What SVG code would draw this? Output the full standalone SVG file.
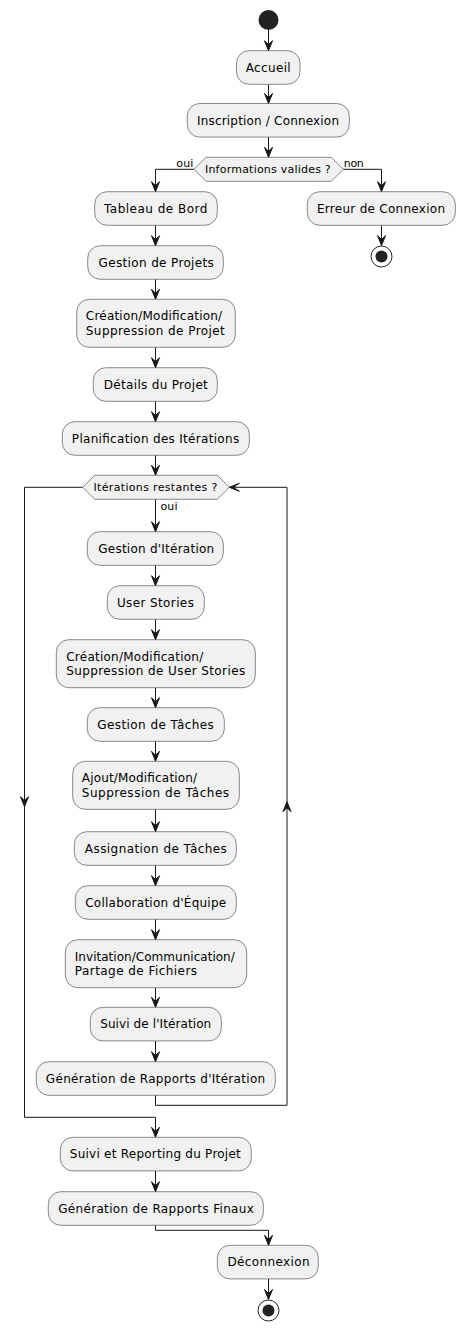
<svg xmlns="http://www.w3.org/2000/svg" width="465" height="1331" viewBox="0 0 465 1331">
<style>
.box{fill:#F1F1F1;stroke:#181818;stroke-width:0.5}
.t{font-family:"DejaVu Sans",sans-serif;font-size:12px;fill:#000}
.c{text-anchor:middle}
.lbl{font-family:"DejaVu Sans",sans-serif;font-size:11px;fill:#000}
.ln{fill:none;stroke:#181818;stroke-width:1}
.ah{fill:#181818;stroke:#181818;stroke-width:1}
</style>
<defs>
<polygon id="ad" points="-4,-10 0,0 4,-10 0,-6"/>
</defs>
<rect width="465" height="1331" fill="#FFFFFF"/>
<g id="connectors">
<path class="ln" d="M268.5,30 V50.7"/><use href="#ad" class="ah" x="268.5" y="50.7"/>
<path class="ln" d="M268.5,84.3 V103.5"/><use href="#ad" class="ah" x="268.5" y="103.5"/>
<path class="ln" d="M268.5,137.1 V157.3"/><use href="#ad" class="ah" x="268.5" y="157.3"/>
<path class="ln" d="M194,169.3 H155.5 V191.7"/><use href="#ad" class="ah" x="155.5" y="191.7"/>
<path class="ln" d="M343.3,169.3 H381.5 V191.7"/><use href="#ad" class="ah" x="381.5" y="191.7"/>
<text class="lbl" x="176.3" y="166.5" textLength="17" lengthAdjust="spacing">oui</text>
<text class="lbl" x="343.8" y="166.5" textLength="20" lengthAdjust="spacing">non</text>
<path class="ln" d="M381.5,225.3 V245.5"/><use href="#ad" class="ah" x="381.5" y="245.5"/>
<path class="ln" d="M155.5,225.3 V245.7"/><use href="#ad" class="ah" x="155.5" y="245.7"/>
<path class="ln" d="M155.5,279.3 V299.3"/><use href="#ad" class="ah" x="155.5" y="299.3"/>
<path class="ln" d="M155.5,347.3 V367.7"/><use href="#ad" class="ah" x="155.5" y="367.7"/>
<path class="ln" d="M155.5,401.3 V421.7"/><use href="#ad" class="ah" x="155.5" y="421.7"/>
<path class="ln" d="M155.5,455.3 V475.3"/><use href="#ad" class="ah" x="155.5" y="475.3"/>
<path class="ln" d="M155.5,499.3 V531.7"/><use href="#ad" class="ah" x="155.5" y="531.7"/>
<text class="lbl" x="160.5" y="510" textLength="17" lengthAdjust="spacing">oui</text>
<path class="ln" d="M155.5,565.3 V585.7"/><use href="#ad" class="ah" x="155.5" y="585.7"/>
<path class="ln" d="M155.5,619.3 V639.7"/><use href="#ad" class="ah" x="155.5" y="639.7"/>
<path class="ln" d="M155.5,687.7 V707.7"/><use href="#ad" class="ah" x="155.5" y="707.7"/>
<path class="ln" d="M155.5,741.3 V761.3"/><use href="#ad" class="ah" x="155.5" y="761.3"/>
<path class="ln" d="M155.5,809.3 V831.7"/><use href="#ad" class="ah" x="155.5" y="831.7"/>
<path class="ln" d="M155.5,865.3 V885.7"/><use href="#ad" class="ah" x="155.5" y="885.7"/>
<path class="ln" d="M155.5,919.3 V939.7"/><use href="#ad" class="ah" x="155.5" y="939.7"/>
<path class="ln" d="M155.5,987.7 V1007.3"/><use href="#ad" class="ah" x="155.5" y="1007.3"/>
<path class="ln" d="M155.5,1041 V1061.7"/><use href="#ad" class="ah" x="155.5" y="1061.7"/>
<path class="ln" d="M155.5,1095.3 V1105.3 H287 V487.3 H229.3"/>
<polygon class="ah" points="239.3,483.3 229.3,487.3 239.3,491.3 233.3,487.3"/>
<polygon class="ah" points="283,811.7 287,801.7 291,811.7 287,807.7"/>
<path class="ln" d="M82.7,487.3 H24.5 V1117.3 H155.5 V1137.3"/>
<use href="#ad" class="ah" x="24.5" y="806.7"/>
<use href="#ad" class="ah" x="155.5" y="1137.3"/>
<path class="ln" d="M155.5,1171 V1191.7"/><use href="#ad" class="ah" x="155.5" y="1191.7"/>
<path class="ln" d="M155.5,1225.3 V1230.3 H268.5 V1245.3"/><use href="#ad" class="ah" x="268.5" y="1245.3"/>
<path class="ln" d="M268.5,1279 V1299.5"/><use href="#ad" class="ah" x="268.5" y="1299.5"/>
</g>
<g id="start"><circle cx="268.5" cy="20" r="10" fill="#222222"/></g>
<g id="accueil"><rect class="box" x="236.5" y="50.7" width="63.5" height="33.6" rx="12.5"/><text class="t c" x="268.2" y="71.8" textLength="45" lengthAdjust="spacing">Accueil</text></g>
<g id="inscription"><rect class="box" x="187.3" y="103.5" width="162" height="33.6" rx="12.5"/><text class="t c" x="268" y="124.6" textLength="142" lengthAdjust="spacing">Inscription / Connexion</text></g>
<g id="decision1"><polygon class="box" points="206,157.3 331.3,157.3 343.3,169.3 331.3,181.3 206,181.3 194,169.3"/><text class="lbl c" x="267.8" y="173.3" textLength="125.7" lengthAdjust="spacing">Informations valides ?</text></g>
<g id="tableau"><rect class="box" x="94.7" y="191.7" width="122.6" height="33.6" rx="12.5"/><text class="t c" x="155.7" y="212.8" textLength="103.3" lengthAdjust="spacing">Tableau de Bord</text></g>
<g id="erreur"><rect class="box" x="307.3" y="191.7" width="148" height="33.6" rx="12.5"/><text class="t c" x="381" y="212.8" textLength="128" lengthAdjust="spacing">Erreur de Connexion</text></g>
<g id="stop1"><circle cx="381.5" cy="256.5" r="10.5" fill="#FFFFFF" stroke="#222222" stroke-width="1"/><circle cx="381.5" cy="256.5" r="6" fill="#222222"/></g>
<g id="gestionProjets"><rect class="box" x="87.7" y="245.7" width="135.6" height="33.6" rx="12.5"/><text class="t c" x="156.2" y="266.8" textLength="115.3" lengthAdjust="spacing">Gestion de Projets</text></g>
<g id="creationProjet"><rect class="box" x="76.7" y="299.3" width="158.6" height="48" rx="12.5"/><text class="t" x="85.8" y="320.3" textLength="136.3" lengthAdjust="spacing">Création/Modification/</text><text class="t" x="85.8" y="334.5" textLength="139" lengthAdjust="spacing">Suppression de Projet</text></g>
<g id="details"><rect class="box" x="93.3" y="367.7" width="124" height="33.6" rx="12.5"/><text class="t c" x="155.8" y="388.8" textLength="104" lengthAdjust="spacing">Détails du Projet</text></g>
<g id="planification"><rect class="box" x="62.3" y="421.7" width="187" height="33.6" rx="12.5"/><text class="t c" x="155.5" y="442.8" textLength="167.3" lengthAdjust="spacing">Planification des Itérations</text></g>
<g id="decision2"><polygon class="box" points="94.7,475.3 217.3,475.3 229.3,487.3 217.3,499.3 94.7,499.3 82.7,487.3"/><text class="lbl c" x="155.4" y="491.3" textLength="123.7" lengthAdjust="spacing">Itérations restantes ?</text></g>
<g id="gestionIteration"><rect class="box" x="87.3" y="531.7" width="136" height="33.6" rx="12.5"/><text class="t c" x="156.2" y="552.8" textLength="116" lengthAdjust="spacing">Gestion d'Itération</text></g>
<g id="userStories"><rect class="box" x="107.3" y="585.7" width="97" height="33.6" rx="12.5"/><text class="t c" x="155.4" y="606.8" textLength="77" lengthAdjust="spacing">User Stories</text></g>
<g id="creationUS"><rect class="box" x="56.3" y="639.7" width="199" height="48" rx="12.5"/><text class="t" x="66.2" y="660.7" textLength="137" lengthAdjust="spacing">Création/Modification/</text><text class="t" x="66.2" y="674.9" textLength="179" lengthAdjust="spacing">Suppression de User Stories</text></g>
<g id="gestionTaches"><rect class="box" x="87.3" y="707.7" width="137" height="33.6" rx="12.5"/><text class="t c" x="155.5" y="728.8" textLength="116.7" lengthAdjust="spacing">Gestion de Tâches</text></g>
<g id="ajout"><rect class="box" x="72.7" y="761.3" width="166.6" height="48" rx="12.5"/><text class="t" x="81.8" y="782.3" textLength="115.3" lengthAdjust="spacing">Ajout/Modification/</text><text class="t" x="81.8" y="796.5" textLength="147.3" lengthAdjust="spacing">Suppression de Tâches</text></g>
<g id="assignation"><rect class="box" x="74.3" y="831.7" width="162" height="33.6" rx="12.5"/><text class="t c" x="155.8" y="852.8" textLength="142" lengthAdjust="spacing">Assignation de Tâches</text></g>
<g id="collaboration"><rect class="box" x="75.3" y="885.7" width="161" height="33.6" rx="12.5"/><text class="t c" x="155.7" y="906.8" textLength="141" lengthAdjust="spacing">Collaboration d'Équipe</text></g>
<g id="invitation"><rect class="box" x="65.3" y="939.7" width="181.4" height="48" rx="12.5"/><text class="t" x="74.8" y="960.7" textLength="160" lengthAdjust="spacing">Invitation/Communication/</text><text class="t" x="74.8" y="974.9" textLength="122.3" lengthAdjust="spacing">Partage de Fichiers</text></g>
<g id="suiviIteration"><rect class="box" x="90.3" y="1007.3" width="131" height="33.6" rx="12.5"/><text class="t c" x="155.7" y="1028.4" textLength="111" lengthAdjust="spacing">Suivi de l'Itération</text></g>
<g id="rapportsIteration"><rect class="box" x="36.3" y="1061.7" width="239" height="33.6" rx="12.5"/><text class="t c" x="155.5" y="1082.8" textLength="219.3" lengthAdjust="spacing">Génération de Rapports d'Itération</text></g>
<g id="suiviReporting"><rect class="box" x="60.3" y="1137.3" width="191" height="33.6" rx="12.5"/><text class="t c" x="155.3" y="1158.4" textLength="171" lengthAdjust="spacing">Suivi et Reporting du Projet</text></g>
<g id="rapportsFinaux"><rect class="box" x="48.3" y="1191.7" width="215" height="33.6" rx="12.5"/><text class="t c" x="156" y="1212.8" textLength="195.7" lengthAdjust="spacing">Génération de Rapports Finaux</text></g>
<g id="deconnexion"><rect class="box" x="217.3" y="1245.3" width="101" height="33.6" rx="12.5"/><text class="t c" x="268.5" y="1266.4" textLength="82" lengthAdjust="spacing">Déconnexion</text></g>
<g id="stop2"><circle cx="268.5" cy="1310.5" r="10.5" fill="#FFFFFF" stroke="#222222" stroke-width="1"/><circle cx="268.5" cy="1310.5" r="6" fill="#222222"/></g>
</svg>
